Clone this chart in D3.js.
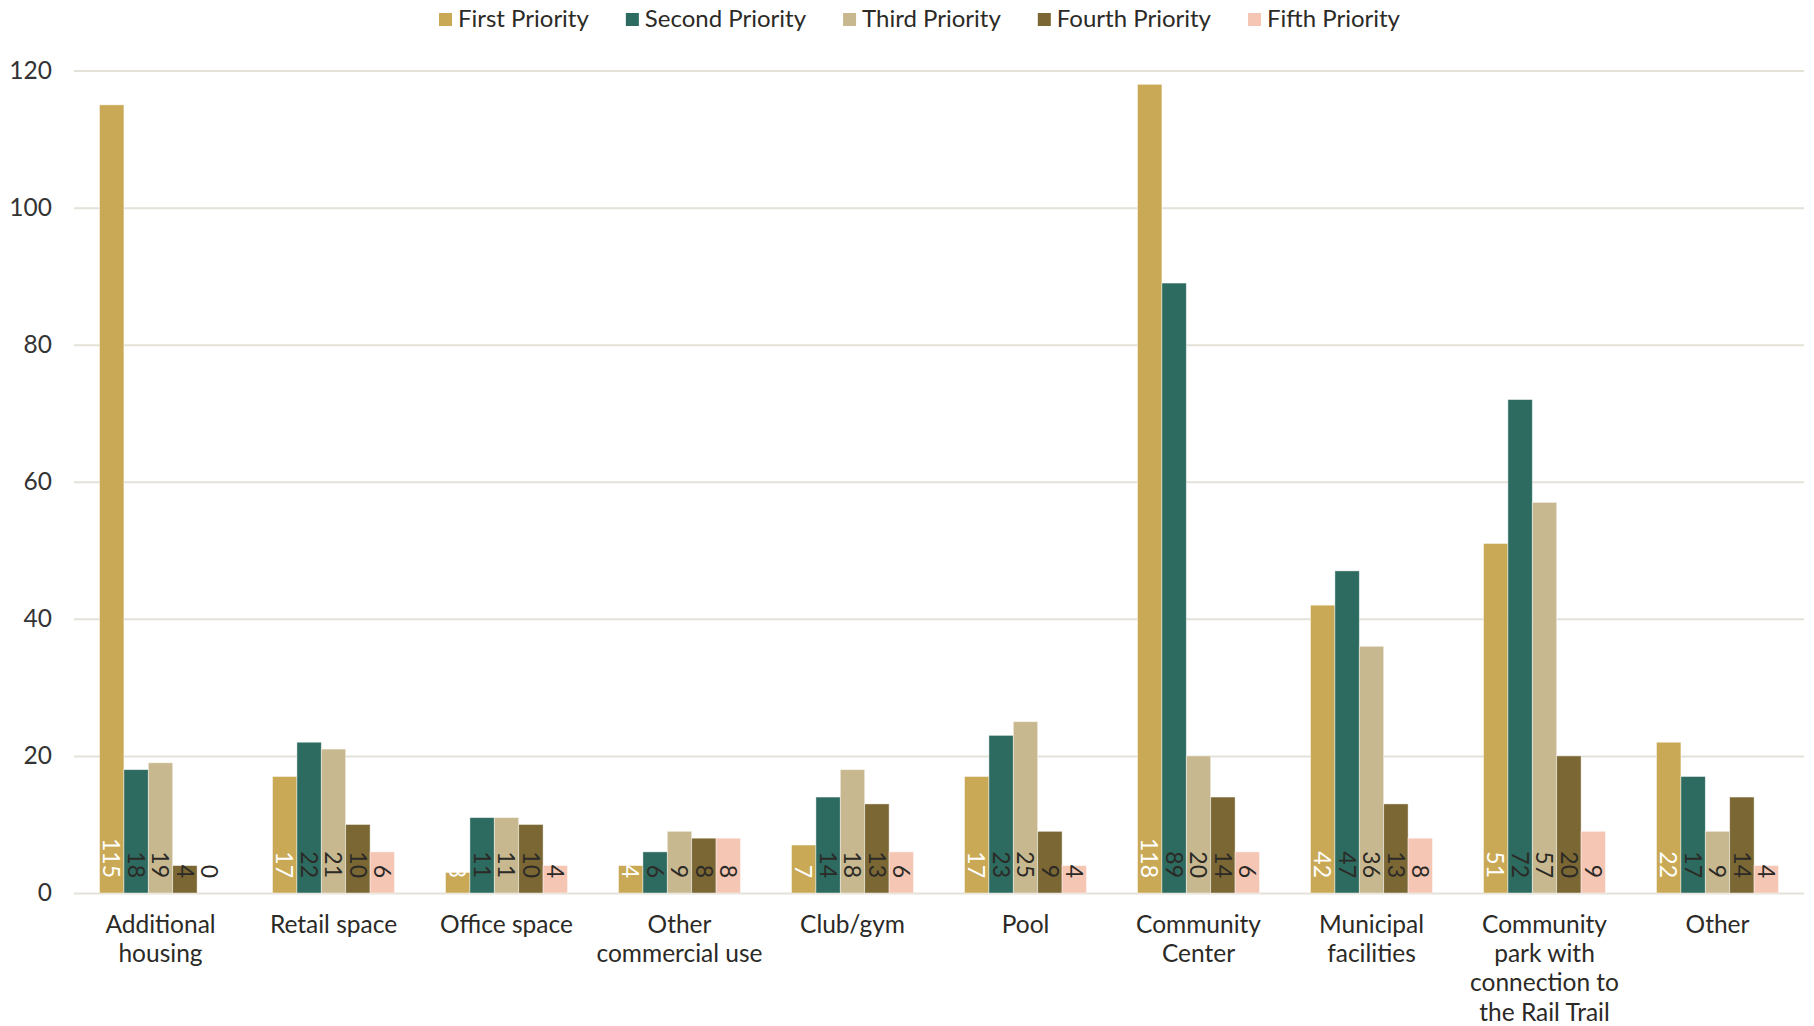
<!DOCTYPE html>
<html>
<head>
<meta charset="utf-8">
<script src="https://cdn.jsdelivr.net/npm/d3@7"></script>
<style>
  html, body { margin: 0; padding: 0; background: #fff; }
  svg { display: block; font-family: Lato, "Open Sans", sans-serif; }
</style>
</head>
<body>
<svg id="chart" width="1814" height="1026"></svg>
<script>
// Survey: how respondents ranked possible uses of the site
const categories = [
  ["Additional", "housing"],
  ["Retail space"],
  ["Office space"],
  ["Other", "commercial use"],
  ["Club/gym"],
  ["Pool"],
  ["Community", "Center"],
  ["Municipal", "facilities"],
  ["Community", "park with", "connection to", "the Rail Trail"],
  ["Other"]
];
const seriesNames = ["First Priority", "Second Priority", "Third Priority", "Fourth Priority", "Fifth Priority"];
const firstPriority  = [115, 17, 3, 4, 7, 17, 118, 42, 51, 22];
const secondPriority = [18, 22, 11, 6, 14, 23, 89, 47, 72, 17];
const thirdPriority  = [19, 21, 11, 9, 18, 25, 20, 36, 57, 9];
const fourthPriority = [4, 10, 10, 8, 13, 9, 14, 13, 20, 14];
const fifthPriority  = [0, 6, 4, 8, 6, 4, 6, 8, 9, 4];
const yTicks = [0, 20, 40, 60, 80, 100, 120];

const seriesValues = [firstPriority, secondPriority, thirdPriority, fourthPriority, fifthPriority];
const colors = ["#C9A955", "#2D6B60", "#C8B88F", "#7B6733", "#F5C6B4"];
const labelColors = ["#ffffff", "#2b2a26", "#2b2a26", "#2b2a26", "#2b2a26"];

const svg = d3.select("#chart");
const margin = { left: 74, right: 10, top: 70.6, bottom: 133 };
const W = 1814, H = 1026;
const plotBottom = H - margin.bottom;

const x0 = d3.scaleBand()
  .domain(d3.range(categories.length))
  .range([margin.left, W - margin.right])
  .paddingInner(0.295)
  .paddingOuter(0.1475);
const x1 = d3.scaleBand()
  .domain(d3.range(seriesNames.length))
  .range([0, x0.bandwidth()]);
const y = d3.scaleLinear().domain([0, 120]).range([plotBottom, margin.top]);

// gridlines and value axis
const yAxis = d3.axisLeft(y).tickValues(yTicks).tickSize(-(W - margin.right - margin.left)).tickPadding(22);
const gy = svg.append("g").attr("transform", `translate(${margin.left},0)`).call(yAxis);
gy.select(".domain").remove();
gy.selectAll(".tick line").attr("stroke", "#E4E1D9").attr("stroke-width", 2);
gy.selectAll(".tick text")
  .attr("fill", "#333")
  .style("font-size", "24.5px")
  .style("font-family", "Lato, sans-serif");

// bars
const groups = svg.append("g").selectAll("g")
  .data(categories.map((c, i) => i))
  .join("g")
  .attr("transform", i => `translate(${x0(i)},0)`);

groups.selectAll("rect")
  .data(i => seriesValues.map((vals, s) => ({ s, v: vals[i] })))
  .join("rect")
  .attr("x", d => x1(d.s))
  .attr("width", x1.bandwidth())
  .attr("y", d => y(d.v))
  .attr("height", d => plotBottom - y(d.v))
  .attr("fill", d => colors[d.s])
  .attr("stroke", "#ffffff")
  .attr("stroke-opacity", 0.55)
  .attr("stroke-width", 0.8);

// value labels, rotated, sitting on the base of each bar
groups.selectAll("text")
  .data(i => seriesValues.map((vals, s) => ({ s, v: vals[i] })))
  .join("text")
  .attr("transform", d => `translate(${x1(d.s) + x1.bandwidth() / 2},${plotBottom - 15}) rotate(90)`)
  .attr("text-anchor", "end")
  .attr("dy", "0.36em")
  .attr("fill", d => labelColors[d.s])
  .style("font-size", "23px")
  .text(d => d.v);

// category labels
const catG = svg.append("g");
categories.forEach((lines, i) => {
  const t = catG.append("text")
    .attr("x", x0(i) + x0.bandwidth() / 2)
    .attr("y", 924)
    .attr("text-anchor", "middle")
    .attr("fill", "#2b2a26")
    .style("font-size", "24.5px");
  lines.forEach((ln, k) => {
    t.append("tspan")
      .attr("x", x0(i) + x0.bandwidth() / 2)
      .attr("dy", k === 0 ? "0.36em" : "29.3px")
      .text(ln);
  });
});

// legend
const legend = svg.append("g");
let lx = 439;
seriesNames.forEach((name, s) => {
  const g = legend.append("g").attr("transform", `translate(${lx},19.5)`);
  g.append("rect").attr("x", 0).attr("y", -6.5).attr("width", 13).attr("height", 13).attr("fill", colors[s]);
  const t = g.append("text").attr("x", 19).attr("dy", "0.33em")
    .attr("fill", "#2b2a26").style("font-size", "24px").text(name);
  lx += 19 + t.node().getComputedTextLength() + 37;
});
</script>
</body>
</html>
